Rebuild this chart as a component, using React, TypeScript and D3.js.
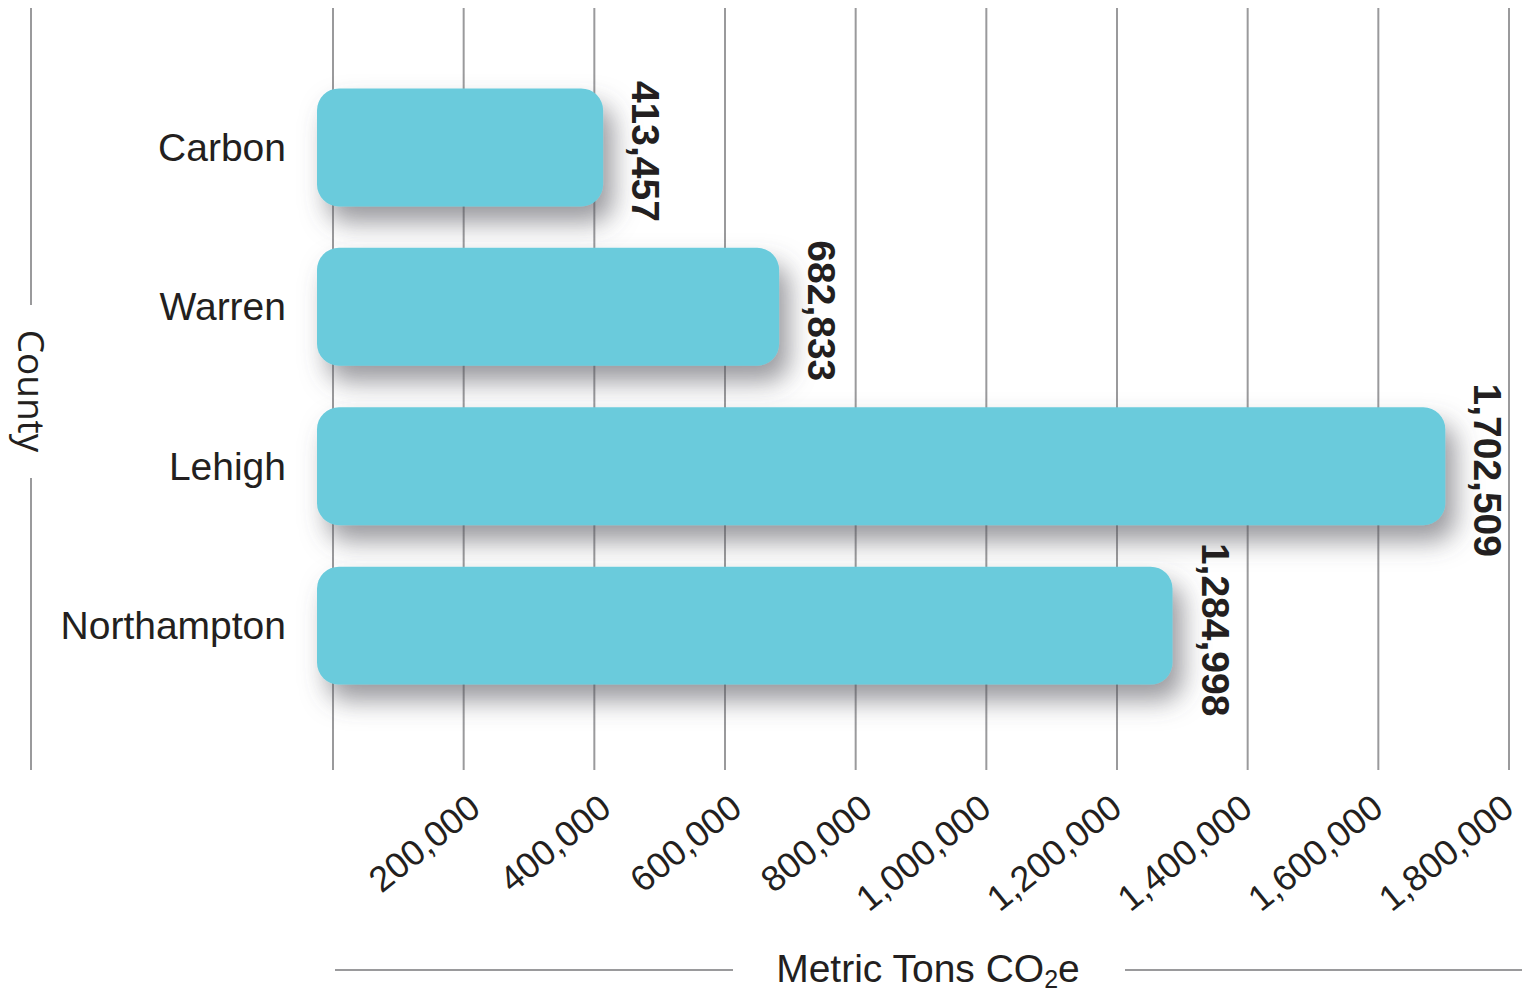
import React from "react";
import * as d3 from "d3";

const categories = ["Carbon", "Warren", "Lehigh", "Northampton"];
const values = [413457, 682833, 1702509, 1284998];
const tickValues = [200000, 400000, 600000, 800000, 1000000, 1200000, 1400000, 1600000, 1800000];
const gridValues = [0, ...tickValues];
const xTitle = "Metric Tons CO";
const yTitle = "County";

const W = 1525;
const H = 992;
const FONT = "'Liberation Sans', Arial, Helvetica, sans-serif";
const BAR = "#6bcbdc";
const GRID = "#9a9a9c";

export default function App() {
  const x = d3.scaleLinear().domain([0, 1800000]).range([333, 1509]);
  const y = d3
    .scaleBand<string>()
    .domain(categories)
    .range([8, 770])
    .paddingInner(0.26)
    .paddingOuter(0.52)
    .align(0.485);
  const fmt = d3.format(",");
  const bw = y.bandwidth();

  return (
    <svg
      width={W}
      height={H}
      style={{ position: "absolute", left: 0, top: 0 }}
      fontFamily={FONT}
    >
      <defs>
        <filter id="shadow" x="-10%" y="-50%" width="130%" height="220%">
          <feDropShadow dx="10" dy="16" stdDeviation="13" floodColor="#55555f" floodOpacity="0.6" />
        </filter>
      </defs>
      <rect width={W} height={H} fill="#fff" />

      {/* grid lines */}
      {gridValues.map((v) => (
        <line key={v} x1={x(v)} x2={x(v)} y1={8} y2={770} stroke={GRID} strokeWidth={2} />
      ))}

      {/* left axis line with County title */}
      <line x1={31} x2={31} y1={8} y2={305} stroke={GRID} strokeWidth={2} />
      <line x1={31} x2={31} y1={478} y2={770} stroke={GRID} strokeWidth={2} />
      <text
        transform={`translate(18,${391}) rotate(90)`}
        textAnchor="middle"
        fontSize={37}
        fontFamily="'Open Sans', sans-serif"
        fill="#231f20"
      >
        {yTitle}
      </text>

      {/* bars */}
      {categories.map((c, i) => (
        <rect
          key={c}
          x={x(0) - 16}
          y={y(c)}
          width={x(values[i]) - x(0) + 16}
          height={bw}
          rx={22}
          ry={22}
          fill={BAR}
          filter="url(#shadow)"
        />
      ))}

      {/* category labels */}
      {categories.map((c) => (
        <text
          key={c}
          x={286}
          y={(y(c) as number) + bw / 2}
          dy="0.35em"
          textAnchor="end"
          fontSize={39}
          fill="#231f20"
        >
          {c}
        </text>
      ))}

      {/* value labels */}
      {categories.map((c, i) => (
        <text
          key={c}
          transform={`translate(${x(values[i]) + 29},${(y(c) as number) + bw / 2 + 4}) rotate(90)`}
          textAnchor="middle"
          fontSize={39}
          fontWeight="bold"
          fill="#231f20"
        >
          {fmt(values[i])}
        </text>
      ))}

      {/* tick labels */}
      {tickValues.map((v) => {
        const s = fmt(v);
        const off = s.length > 7 ? 7 : 19;
        return (
          <text
            key={v}
            transform={`translate(${x(v) + off},${812}) rotate(-39)`}
            textAnchor="end"
            fontSize={36}
            fill="#231f20"
          >
            {s}
          </text>
        );
      })}

      {/* x title */}
      <line x1={335} x2={733} y1={970} y2={970} stroke={GRID} strokeWidth={2} />
      <line x1={1125} x2={1522} y1={970} y2={970} stroke={GRID} strokeWidth={2} />
      <text x={928} y={982} textAnchor="middle" fontSize={39} fill="#231f20">
        {xTitle}
        <tspan fontSize={25} dy={6}>2</tspan>
        <tspan dy={-6}>e</tspan>
      </text>
    </svg>
  );
}
